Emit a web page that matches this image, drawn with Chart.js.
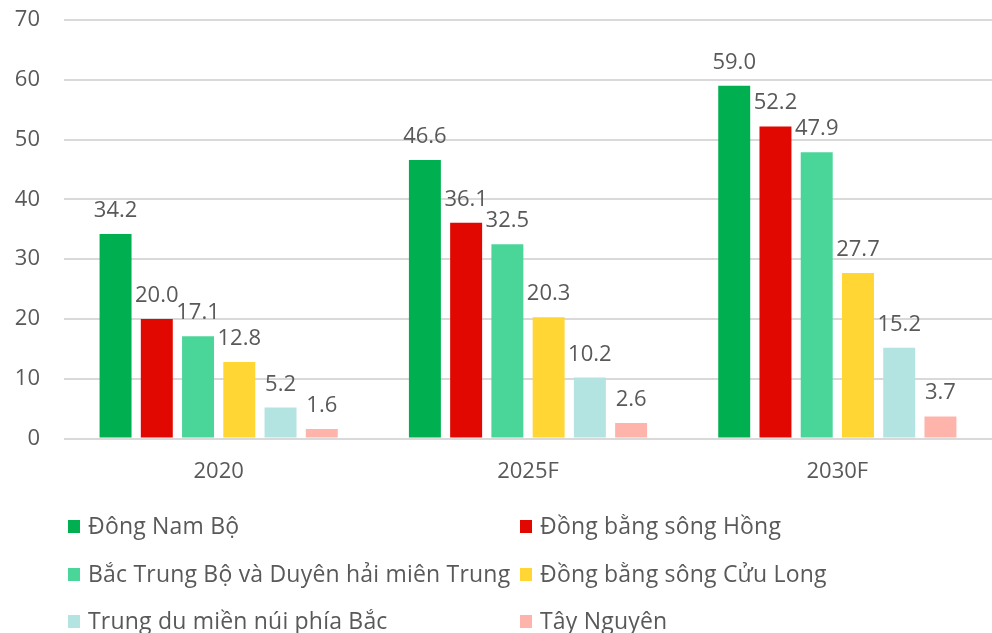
<!DOCTYPE html>
<html>
<head>
<meta charset="utf-8">
<script src="https://cdn.jsdelivr.net/npm/chart.js@4.4.1/dist/chart.umd.min.js"></script>
<style>
  html, body { margin: 0; padding: 0; background: #fff; }
  #wrap { width: 992px; height: 633px; position: relative; }
</style>
</head>
<body>
<div id="wrap"><canvas id="chart"></canvas></div>
<script>
const years = ["2020", "2025F", "2030F"];

const dongNamBo = [34.2, 46.6, 59.0];
const dongBangSongHong = [20.0, 36.1, 52.2];
const bacTrungBo = [17.1, 32.5, 47.9];
const dongBangSongCuuLong = [12.8, 20.3, 27.7];
const trungDuMienNui = [5.2, 10.2, 15.2];
const tayNguyen = [1.6, 2.6, 3.7];

const yTicks = [0, 10, 20, 30, 40, 50, 60, 70];

const FONT = "'Open Sans'";
const TEXT = "#595959";

// nhãn giá trị phía trên cột
const valueLabels = {
  id: "valueLabels",
  afterDatasetsDraw(chart) {
    const ctx = chart.ctx;
    ctx.save();
    ctx.font = "22px " + FONT;
    ctx.fillStyle = TEXT;
    ctx.textAlign = "center";
    ctx.textBaseline = "alphabetic";
    chart.data.datasets.forEach((ds, i) => {
      chart.getDatasetMeta(i).data.forEach((bar, j) => {
        ctx.fillText(ds.data[j].toFixed(1), bar.x, bar.y - 17);
      });
    });
    ctx.restore();
  },
};

// chú thích 2 cột
const twoColLegend = {
  id: "twoColLegend",
  afterDraw(chart) {
    const ctx = chart.ctx;
    const cols = [68, 520];
    const rows = [527, 575, 622];
    ctx.save();
    ctx.font = "23px " + FONT;
    ctx.letterSpacing = "0.2px";
    ctx.textBaseline = "middle";
    chart.data.datasets.forEach((ds, i) => {
      const x = cols[i % 2];
      const y = rows[Math.floor(i / 2)];
      ctx.fillStyle = ds.backgroundColor;
      ctx.fillRect(x, y - 7, 12, 13);
      ctx.fillStyle = TEXT;
      ctx.fillText(ds.label, x + 20, y);
    });
    ctx.restore();
  },
};

function series(label, data, color) {
  return {
    label: label,
    data: data,
    backgroundColor: color,
    borderWidth: 0,
    categoryPercentage: 0.8,
    barPercentage: 0.775,
  };
}

new Chart(document.getElementById("chart").getContext("2d"), {
  type: "bar",
  data: {
    labels: years,
    datasets: [
      series("Đông Nam Bộ", dongNamBo, "#00b050"),
      series("Đồng bằng sông Hồng", dongBangSongHong, "#e00800"),
      series("Bắc Trung Bộ và Duyên hải miên Trung", bacTrungBo, "#4bd699"),
      series("Đồng bằng sông Cửu Long", dongBangSongCuuLong, "#ffd633"),
      series("Trung du miền núi phía Bắc", trungDuMienNui, "#b3e4e2"),
      series("Tây Nguyên", tayNguyen, "#ffb4ab"),
    ],
  },
  plugins: [valueLabels, twoColLegend],
  options: {
    responsive: true,
    maintainAspectRatio: false,
    animation: false,
    layout: { padding: { top: 20, right: 0, left: 0, bottom: 128 } },
    plugins: {
      legend: { display: false },
      tooltip: { enabled: false },
    },
    scales: {
      x: {
        grid: { display: false, drawTicks: false },
        border: { display: false },
        ticks: { color: TEXT, font: { family: "Open Sans", size: 22 }, padding: 20 },
      },
      y: {
        min: 0,
        max: 70,
        afterBuildTicks: (axis) => { axis.ticks = yTicks.map((v) => ({ value: v })); },
        afterFit: (axis) => { axis.width = 64; },
        grid: { color: "#d9d9d9", lineWidth: 2, drawTicks: true, tickLength: 24, tickColor: "rgba(0,0,0,0)" },
        border: { display: false },
        ticks: { color: TEXT, font: { family: "Open Sans", size: 22 }, padding: 0 },
      },
    },
  },
});
</script>
</body>
</html>
